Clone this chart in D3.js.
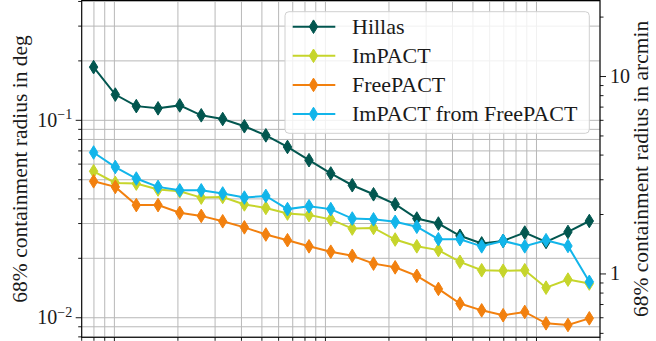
<!DOCTYPE html>
<html>
<head>
<meta charset="utf-8">
<script src="https://cdn.jsdelivr.net/npm/d3@7"></script>
<style>
  html, body { margin: 0; padding: 0; background: #fff; }
  svg { display: block; }
  svg text, svg tspan { font-family: "Liberation Serif" !important; }
</style>
</head>
<body>
<svg id="chart" width="656" height="341"></svg>
<script>
// energy bin centres (TeV)
const energies = [0.0797, 0.101, 0.127, 0.161, 0.204, 0.258, 0.326, 0.413, 0.522, 0.661, 0.836, 1.06,
  1.34, 1.69, 2.14, 2.71, 3.43, 4.34, 5.50, 6.95, 8.80, 11.1, 14.1, 17.8];

// 68% containment radius in deg
const hillas = [0.186, 0.135, 0.118, 0.115, 0.119, 0.106, 0.1015, 0.0933, 0.0839, 0.0733, 0.0628, 0.0538,
  0.0469, 0.0422, 0.0376, 0.0318, 0.0300, 0.0260, 0.0238, 0.0245, 0.0270, 0.0242, 0.0272, 0.0309];
const impact = [0.0552, 0.0482, 0.0478, 0.0446, 0.0437, 0.0406, 0.0409, 0.0375, 0.0360, 0.0337, 0.0331, 0.0315,
  0.0283, 0.0285, 0.0249, 0.0230, 0.0220, 0.0192, 0.0174, 0.0173, 0.0174, 0.0142, 0.0156, 0.0149];
const freepact = [0.0491, 0.0460, 0.0372, 0.0372, 0.0340, 0.0328, 0.0308, 0.0287, 0.0264, 0.0247, 0.0230, 0.0216,
  0.0206, 0.0188, 0.0180, 0.0163, 0.0140, 0.0118, 0.0109, 0.0103, 0.0107, 0.00937, 0.00919, 0.00993];
const impactFromFreepact = [0.0687, 0.0580, 0.0507, 0.0460, 0.0442, 0.0442, 0.0426, 0.0406, 0.0414, 0.0355, 0.0367, 0.0355,
  0.0318, 0.0315, 0.0306, 0.0289, 0.0250, 0.0250, 0.0230, 0.0245, 0.0230, 0.0247, 0.0231, 0.0152];

const seriesNames = ["Hillas", "ImPACT", "FreePACT", "ImPACT from FreePACT"];
const seriesColors = ["#02564f", "#c6d52b", "#f2800e", "#12b5ea"];

const xDomain = [0.07, 20];
const yDomain = [0.00796, 0.4045];   // deg
const yMajorTicks = [0.01, 0.1];
const arcminMajorTicks = [1, 10];

const FONT = '"Liberation Serif"'; // closest thing to the LaTeX font we have
const TXT = "#1a1a1a";

const series = [hillas, impact, freepact, impactFromFreepact].map((vals, i) => ({
  name: seriesNames[i],
  color: seriesColors[i],
  points: vals.map((v, j) => ({ e: energies[j], v }))
}));

const margin = { top: 0.5, right: 56, bottom: 3.7, left: 81.7 };
const W = 656, H = 341;
const width = W - margin.left - margin.right;
const height = H - margin.top - margin.bottom;

const svg = d3.select("#chart").style("font-family", FONT);
const g = svg.append("g").attr("transform", `translate(${margin.left},${margin.top})`);

const x = d3.scaleLog().domain(xDomain).range([0, width]);
const y = d3.scaleLog().domain(yDomain).range([height, 0]);
const y2 = d3.scaleLog().domain(yDomain.map(d => d * 60)).range([height, 0]);

// all log ticks (major + minor) inside a domain
const logTicks = (scale) => {
  const [a, b] = scale.domain();
  const out = [];
  for (let p = Math.floor(Math.log10(a)); p <= Math.ceil(Math.log10(b)); p++) {
    for (let m = 1; m <= 9; m++) {
      const v = m * Math.pow(10, p);
      if (v >= a * 0.9999 && v <= b * 1.0001) out.push({ v, major: m === 1 });
    }
  }
  return out;
};

const xt = logTicks(x), yt = logTicks(y), y2t = logTicks(y2);

// grid
g.append("g").selectAll("line").data(xt).enter().append("line")
  .attr("x1", d => x(d.v)).attr("x2", d => x(d.v))
  .attr("y1", 0).attr("y2", height)
  .attr("stroke", "#b8b8b8").attr("stroke-width", 1);
g.append("g").selectAll("line").data(yt).enter().append("line")
  .attr("x1", 0).attr("x2", width)
  .attr("y1", d => y(d.v)).attr("y2", d => y(d.v))
  .attr("stroke", "#b8b8b8").attr("stroke-width", 1);

// lines + thin diamond markers
const line = d3.line().x(d => x(d.e)).y(d => y(d.v));
const diamond = "M0,-6.8L4.2,0L0,6.8L-4.2,0Z";

series.forEach(s => {
  g.append("path")
    .datum(s.points)
    .attr("d", line)
    .attr("fill", "none")
    .attr("stroke", s.color)
    .attr("stroke-width", 2);
  g.append("g").selectAll("path").data(s.points).enter().append("path")
    .attr("d", diamond)
    .attr("transform", d => `translate(${x(d.e)},${y(d.v)})`)
    .attr("fill", s.color)
    .attr("stroke", s.color)
    .attr("stroke-width", 1);
});

// frame
g.append("rect")
  .attr("x", 0).attr("y", 0).attr("width", width).attr("height", height)
  .attr("fill", "none").attr("stroke", "#000").attr("stroke-width", 1.1);

// ticks
const tickLen = d => d.major ? 6 : 3.5;
g.append("g").selectAll("line").data(xt).enter().append("line")
  .attr("x1", d => x(d.v)).attr("x2", d => x(d.v))
  .attr("y1", height).attr("y2", d => height + tickLen(d))
  .attr("stroke", "#000").attr("stroke-width", 0.9);
g.append("g").selectAll("line").data(yt).enter().append("line")
  .attr("x1", d => -tickLen(d)).attr("x2", 0)
  .attr("y1", d => y(d.v)).attr("y2", d => y(d.v))
  .attr("stroke", "#000").attr("stroke-width", 0.9);
g.append("g").selectAll("line").data(y2t).enter().append("line")
  .attr("x1", width).attr("x2", d => width + tickLen(d))
  .attr("y1", d => y2(d.v)).attr("y2", d => y2(d.v))
  .attr("stroke", "#000").attr("stroke-width", 0.9);

// left tick labels: 10^-1, 10^-2
const yl = g.append("g").selectAll("text").data(yMajorTicks).enter().append("text")
  .attr("x", -9.5).attr("y", d => y(d) + 6.5)
  .attr("text-anchor", "end")
  .style("font-family", FONT)
  .style("font-size", "20px")
  .style("fill", TXT);
yl.append("tspan").text("10");
yl.append("tspan").attr("dy", -7.5).style("font-size", "14px")
  .text(d => "\u2212" + Math.round(-Math.log10(d)));

// right tick labels
g.append("g").selectAll("text").data(arcminMajorTicks).enter().append("text")
  .attr("x", width + 10).attr("y", d => y2(d) + 6.5)
  .style("font-family", FONT)
  .style("font-size", "20px")
  .style("fill", TXT)
  .text(d => d);

// axis labels
svg.append("text")
  .attr("transform", `translate(27,${margin.top + height / 2}) rotate(-90)`)
  .attr("text-anchor", "middle")
  .style("font-family", FONT)
  .style("font-size", "21.5px")
  .style("fill", TXT)
  .text("68% containment radius in deg");
svg.append("text")
  .attr("transform", `translate(648,${margin.top + height / 2}) rotate(-90)`)
  .attr("text-anchor", "middle")
  .style("font-family", FONT)
  .style("font-size", "21.5px")
  .style("fill", TXT)
  .text("68% containment radius in arcmin");

// legend
const lg = svg.append("g");
lg.append("rect")
  .attr("x", 285).attr("y", 11.7).attr("width", 304.3).attr("height", 121.6)
  .attr("rx", 4).attr("ry", 4)
  .attr("fill", "#fff").attr("fill-opacity", 0.8)
  .attr("stroke", "#d0d0d0").attr("stroke-width", 1);

const rowY = d => 26.7 + d * 29.1;
series.forEach((s, i) => {
  const ry = rowY(i);
  lg.append("line")
    .attr("x1", 292.7).attr("x2", 335.3).attr("y1", ry).attr("y2", ry)
    .attr("stroke", s.color).attr("stroke-width", 2);
  lg.append("path")
    .attr("d", diamond)
    .attr("transform", `translate(313.5,${ry})`)
    .attr("fill", s.color).attr("stroke", s.color).attr("stroke-width", 1);
  lg.append("text")
    .attr("x", 352).attr("y", ry + 7.2)
    .style("font-family", FONT)
    .style("font-size", "22px")
    .style("fill", TXT)
    .text(s.name);
});
</script>
</body>
</html>
